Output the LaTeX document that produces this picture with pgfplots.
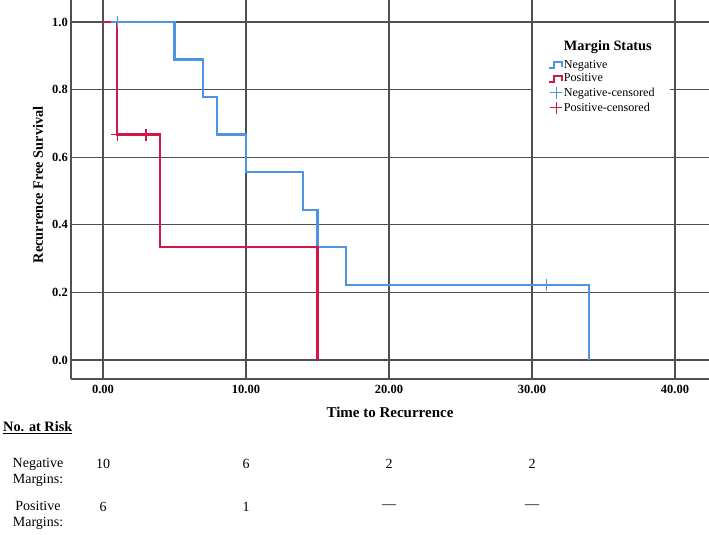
\documentclass[border=0pt]{standalone}
\usepackage{pgfplots}
\pgfplotsset{compat=1.18}
\usepackage{fontspec}
\setmainfont{Liberation Serif}
\definecolor{negblue}{RGB}{78,148,226}
\definecolor{posred}{RGB}{212,22,72}
\definecolor{gridgray}{RGB}{80,80,80}
\pgfplotsset{
  steplegend/.style={legend image code/.code={\draw[##1] (0pt,-3pt) -- (5pt,-3pt) -- (5pt,3pt) -- (13pt,3pt) -- (13pt,-2pt);}},
  marklegend/.style={legend image code/.code={\draw[##1] plot coordinates {(7pt,0pt)};}},
}
\begin{document}
\begin{tikzpicture}
\path[use as bounding box] (0,0) rectangle (709pt,535pt);
\begin{axis}[
  at={(71pt,156pt)}, anchor=south west,
  scale only axis, width=638pt, height=379pt,
  xmin=-2.24, xmax=42.38, ymin=-0.0562, ymax=1.065,
  axis x line=bottom, axis y line=left,
  axis line style={-, draw=gridgray, line width=1.2pt},
  xtick={0,10,20,30,40}, ytick={0,0.2,0.4,0.6,0.8,1.0},
  major tick length=0pt,
  grid=major,
  major grid style={draw=gridgray, line width=1.2pt},
  /pgf/number format/assume math mode=true,
  ticklabel style={font=\fontsize{12.5}{14}\selectfont\bfseries, inner sep=3pt},
  x tick label style={yshift=-3pt, /pgf/number format/.cd, fixed, fixed zerofill, precision=2, /tikz/.cd},
  y tick label style={/pgf/number format/.cd, fixed, fixed zerofill, precision=1, /tikz/.cd},
  xlabel={Time to Recurrence},
  xlabel style={font=\fontsize{15}{17}\selectfont\bfseries, at={(rel axis cs:0.5,0)}, anchor=center, yshift=-33pt},
  ylabel={Recurrence Free Survival},
  ylabel style={font=\fontsize{14.3}{16}\selectfont\bfseries, at={(rel axis cs:0,0.512)}, anchor=center, yshift=33pt},
  legend cell align=left,
  legend style={at={(rel axis cs:0.7241,0.907)}, anchor=north west, fill=white, draw=none,
    inner xsep=15pt, inner ysep=5pt, row sep=2.8pt, column sep=0pt,
    nodes={inner sep=0.6pt},
    font=\fontsize{12.1}{13}\selectfont},
]
\addlegendimage{empty legend}
\addlegendentry{\raisebox{4pt}{\fontsize{14.3}{16}\selectfont\bfseries Margin Status}}

\addplot[const plot, negblue, line width=2.1pt, steplegend]
  coordinates {(0,1) (5,0.889) (7,0.778) (8,0.667) (10,0.556) (14,0.444) (15,0.333) (17,0.222) (34,0)};
\addlegendentry{Negative}

\addplot[const plot, posred, line width=2.1pt, steplegend]
  coordinates {(0,1) (1,0.667) (4,0.333) (15,0)};
\addlegendentry{Positive}

\addplot[only marks, mark=+, mark size=6pt, negblue, line width=1.2pt, marklegend]
  coordinates {(1,1.0) (31,0.222)};
\addlegendentry{Negative-censored}

\addplot[only marks, mark=+, mark size=6pt, posred, line width=1.2pt, marklegend]
  coordinates {(1,0.667) (3,0.667)};
\addlegendentry{Positive-censored}
\end{axis}

\node[anchor=west, font=\fontsize{14.3}{16}\selectfont\bfseries, inner sep=0pt] at (3pt,107pt) {\underline{No. at Risk}};
\node[align=center, font=\fontsize{14}{16}\selectfont, inner sep=0pt] at (38pt,63pt) {Negative\\Margins:};
\node[align=center, font=\fontsize{14}{16}\selectfont, inner sep=0pt] at (38pt,20pt) {Positive\\Margins:};
\begin{scope}[every node/.style={font=\fontsize{14}{16}\selectfont, inner sep=0pt}]
\node at (103pt,71pt) {10};
\node at (246pt,71pt) {6};
\node at (389pt,71pt) {2};
\node at (532pt,71pt) {2};
\node at (103pt,28pt) {6};
\node at (246pt,28pt) {1};
\node at (389pt,28pt) {---};
\node at (532pt,28pt) {---};
\end{scope}
\end{tikzpicture}
\end{document}
